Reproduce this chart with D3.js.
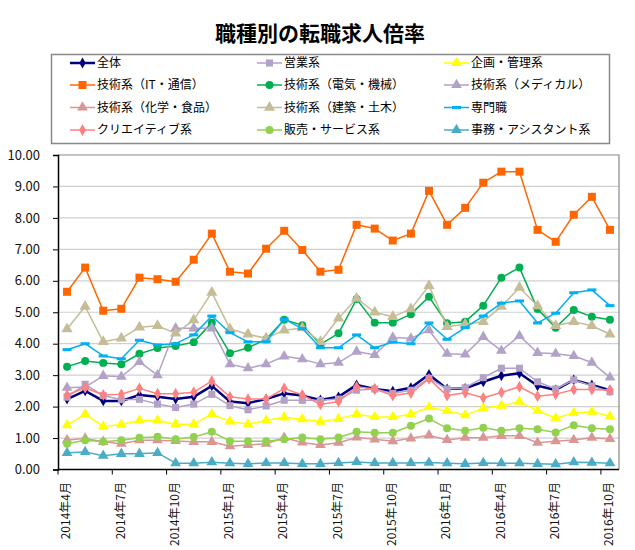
<!DOCTYPE html>
<html>
<head>
<meta charset="utf-8">
<script src="https://cdn.jsdelivr.net/npm/d3@7"></script>
<style>
    body { margin: 0; background: #fff; }
    text { font-family: "Noto Sans CJK JP", "Noto Sans", sans-serif; }
</style>
</head>
<body>
<div id="chart"></div>
<script>
// month labels (x axis categories)
const months = [
    "2014年4月", "2014年5月", "2014年6月", "2014年7月", "2014年8月", "2014年9月",
    "2014年10月", "2014年11月", "2014年12月", "2015年1月", "2015年2月", "2015年3月",
    "2015年4月", "2015年5月", "2015年6月", "2015年7月", "2015年8月", "2015年9月",
    "2015年10月", "2015年11月", "2015年12月", "2016年1月", "2016年2月", "2016年3月",
    "2016年4月", "2016年5月", "2016年6月", "2016年7月", "2016年8月", "2016年9月",
    "2016年10月"
];
const yTicks = [0, 1, 2, 3, 4, 5, 6, 7, 8, 9, 10];

// series values
const zentai   = [2.24, 2.50, 2.18, 2.18, 2.37, 2.31, 2.24, 2.31, 2.66, 2.16, 2.11, 2.24, 2.42, 2.35, 2.21, 2.31, 2.69, 2.56, 2.49, 2.60, 3.02, 2.56, 2.58, 2.79, 2.98, 3.06, 2.66, 2.53, 2.85, 2.69, 2.52];
const eigyo    = [2.30, 2.71, 2.35, 2.22, 2.23, 2.08, 1.97, 2.08, 2.39, 2.03, 1.90, 2.02, 2.20, 2.20, 2.20, 2.24, 2.52, 2.56, 2.42, 2.52, 2.90, 2.56, 2.60, 2.92, 3.22, 3.22, 2.79, 2.56, 2.85, 2.66, 2.47];
const kikaku   = [1.41, 1.76, 1.37, 1.43, 1.56, 1.56, 1.44, 1.44, 1.76, 1.53, 1.44, 1.56, 1.66, 1.60, 1.52, 1.61, 1.76, 1.67, 1.67, 1.76, 1.98, 1.86, 1.73, 1.95, 2.03, 2.16, 1.87, 1.63, 1.80, 1.84, 1.69];
const itTsushin = [5.65, 6.42, 5.05, 5.11, 6.10, 6.05, 5.97, 6.67, 7.50, 6.29, 6.23, 7.02, 7.59, 6.98, 6.29, 6.35, 7.78, 7.66, 7.28, 7.50, 8.86, 7.78, 8.32, 9.12, 9.47, 9.47, 7.62, 7.24, 8.10, 8.67, 7.62];
const denki    = [3.27, 3.45, 3.39, 3.35, 3.68, 3.86, 3.93, 4.05, 4.67, 3.70, 3.87, 4.14, 4.76, 4.59, 3.98, 4.33, 5.42, 4.67, 4.67, 4.94, 5.49, 4.65, 4.70, 5.21, 6.10, 6.42, 5.10, 4.51, 5.07, 4.86, 4.76];
const medical  = [2.60, 2.62, 2.98, 2.95, 3.42, 3.00, 4.49, 4.49, 4.49, 3.35, 3.22, 3.35, 3.60, 3.51, 3.35, 3.40, 3.75, 3.64, 4.20, 4.17, 4.43, 3.68, 3.66, 4.22, 3.78, 4.25, 3.71, 3.68, 3.61, 3.40, 2.93];
const kagaku   = [0.93, 0.99, 0.88, 0.82, 0.93, 0.93, 0.91, 0.88, 0.88, 0.74, 0.78, 0.82, 1.01, 0.86, 0.78, 0.85, 1.02, 0.96, 0.90, 0.99, 1.09, 0.94, 1.01, 1.01, 1.07, 1.07, 0.85, 0.90, 0.94, 1.01, 0.97];
const kenchiku = [4.47, 5.18, 4.06, 4.17, 4.52, 4.57, 4.33, 4.75, 5.63, 4.47, 4.30, 4.17, 4.43, 4.50, 4.06, 4.81, 5.44, 5.00, 4.86, 5.10, 5.84, 4.54, 4.62, 4.70, 5.18, 5.79, 5.20, 4.57, 4.70, 4.57, 4.30];
const senmon   = [3.81, 4.00, 3.61, 3.52, 4.11, 3.96, 4.00, 4.28, 4.88, 4.35, 4.06, 4.06, 4.78, 4.48, 3.87, 3.87, 4.28, 3.87, 4.05, 4.00, 4.66, 4.14, 4.51, 4.88, 5.29, 5.36, 4.66, 4.97, 5.62, 5.71, 5.21];
const creative = [2.37, 2.60, 2.37, 2.39, 2.58, 2.41, 2.41, 2.46, 2.81, 2.31, 2.24, 2.24, 2.58, 2.37, 2.07, 2.16, 2.63, 2.56, 2.35, 2.43, 2.88, 2.35, 2.44, 2.28, 2.45, 2.63, 2.33, 2.39, 2.54, 2.54, 2.52];
const hanbai   = [0.82, 0.93, 0.88, 0.93, 1.01, 1.04, 0.96, 1.03, 1.20, 0.90, 0.90, 0.90, 0.96, 1.02, 0.96, 1.02, 1.20, 1.17, 1.17, 1.39, 1.62, 1.31, 1.23, 1.33, 1.23, 1.31, 1.28, 1.18, 1.41, 1.31, 1.28];
const jimu     = [0.53, 0.56, 0.44, 0.50, 0.50, 0.53, 0.20, 0.20, 0.23, 0.20, 0.18, 0.21, 0.21, 0.18, 0.18, 0.21, 0.24, 0.21, 0.21, 0.21, 0.22, 0.20, 0.18, 0.21, 0.20, 0.20, 0.18, 0.17, 0.23, 0.22, 0.20];

const seriesNames = [
    "全体", "営業系", "企画・管理系",
    "技術系（IT・通信）", "技術系（電気・機械）", "技術系（メディカル）",
    "技術系（化学・食品）", "技術系（建築・土木）", "専門職",
    "クリエイティブ系", "販売・サービス系", "事務・アシスタント系"
];
const seriesValues = [zentai, eigyo, kikaku, itTsushin, denki, medical, kagaku, kenchiku, senmon, creative, hanbai, jimu];

// look of each series: colour, marker, line width
const styles = [
    { color: "#000080", marker: "diamond", size: 34, width: 2.5 },
    { color: "#B3A2C7", marker: "square", size: 50, width: 1.5 },
    { color: "#FFFF00", marker: "triangle", size: 50, width: 1.5 },
    { color: "#FF6600", marker: "square", size: 64, width: 1.5 },
    { color: "#00B050", marker: "circle", size: 50, width: 1.5 },
    { color: "#B3A2C7", marker: "triangle", size: 50, width: 1.5 },
    { color: "#D99694", marker: "triangle", size: 50, width: 1.5 },
    { color: "#C4BD97", marker: "triangle", size: 55, width: 1.5 },
    { color: "#00B0F0", marker: "dash", size: 0, width: 1.5 },
    { color: "#FF8080", marker: "diamond", size: 40, width: 1.5 },
    { color: "#92D050", marker: "circle", size: 50, width: 1.5 },
    { color: "#4BACC6", marker: "triangle", size: 50, width: 1.5 }
];

const W = 635, H = 550;
const margin = { left: 58, right: 16, top: 155, bottom: 80.5 };

const svg = d3.select("#chart").append("svg")
    .attr("width", W)
    .attr("height", H);

svg.append("rect").attr("width", W).attr("height", H).attr("fill", "#fff");

// title
svg.append("text")
    .attr("x", 320)
    .attr("y", 41)
    .attr("text-anchor", "middle")
    .attr("font-size", "21px")
    .attr("font-weight", "bold")
    .text("職種別の転職求人倍率");

const x = d3.scaleBand()
    .domain(months)
    .range([margin.left, W - margin.right]);
const y = d3.scaleLinear()
    .domain([0, 10])
    .range([H - margin.bottom, margin.top]);

function drawMarker(g, st, cx, cy) {
    if (st.marker === "dash") {
        g.append("rect")
            .attr("x", cx - 4.5).attr("y", cy - 1.5)
            .attr("width", 9).attr("height", 3)
            .attr("fill", st.color);
        return;
    }
    const type = {
        diamond: d3.symbolDiamond,
        square: d3.symbolSquare,
        triangle: d3.symbolTriangle,
        circle: d3.symbolCircle
    }[st.marker];
    g.append("path")
        .attr("d", d3.symbol().type(type).size(st.size)())
        .attr("transform", `translate(${cx},${cy})`)
        .attr("fill", st.color);
}

// grid lines
svg.append("g").selectAll("line")
    .data(yTicks.filter(d => d > 0 && d < 10))
    .join("line")
    .attr("x1", margin.left).attr("x2", W - margin.right)
    .attr("y1", d => y(d)).attr("y2", d => y(d))
    .attr("stroke", "#D0D0D0")
    .attr("stroke-width", 1.2);

// plot border (top, right)
svg.append("path")
    .attr("d", `M${margin.left},${y(10)}H${W - margin.right}V${y(0)}`)
    .attr("fill", "none")
    .attr("stroke", "#888")
    .attr("stroke-width", 1.2);

// y axis
const axisY = svg.append("g")
    .attr("transform", `translate(${margin.left},0)`)
    .call(d3.axisLeft(y).tickValues(yTicks).tickFormat(d3.format(".2f")).tickSize(5).tickPadding(13));
axisY.select(".domain").attr("stroke", "#000").attr("stroke-width", 1.5);
axisY.selectAll(".tick line").attr("stroke", "#000");
axisY.selectAll("text")
    .attr("font-size", "13px")
    .attr("fill", "#111")
    .style("font-family", '"Noto Sans CJK JP", sans-serif');

// x axis
const axisX = svg.append("g");
axisX.append("line")
    .attr("x1", margin.left).attr("x2", W - margin.right)
    .attr("y1", y(0)).attr("y2", y(0))
    .attr("stroke", "#000")
    .attr("stroke-width", 1.5);
axisX.selectAll(".xtick")
    .data(months.filter((d, i) => i % 3 === 0))
    .join("line")
    .attr("class", "xtick")
    .attr("x1", d => x(d)).attr("x2", d => x(d))
    .attr("y1", y(0)).attr("y2", y(0) + 5)
    .attr("stroke", "#000");
axisX.selectAll(".xlabel")
    .data(months.filter((d, i) => i % 3 === 0))
    .join("text")
    .attr("class", "xlabel")
    .attr("transform", d => `translate(${x(d) + x.bandwidth() / 2 - 1},482) rotate(-90)`)
    .attr("dy", "0.35em")
    .attr("text-anchor", "end")
    .attr("font-size", "12px")
    .attr("fill", "#111")
    .text(d => d);

// lines + markers
const line = d3.line()
    .x((d, i) => x(months[i]) + x.bandwidth() / 2)
    .y(d => y(d));
const drawArea = svg.append("g");
seriesValues.forEach((vals, k) => {
    const st = styles[k];
    const g = drawArea.append("g");
    g.append("path")
        .datum(vals)
        .attr("d", line)
        .attr("fill", "none")
        .attr("stroke", st.color)
        .attr("stroke-width", st.width)
        .attr("stroke-linejoin", "round");
    vals.forEach((v, i) => drawMarker(g, st, x(months[i]) + x.bandwidth() / 2, y(v)));
});

// legend
const legend = svg.append("g");
legend.append("rect")
    .attr("x", 51.5).attr("y", 54.5)
    .attr("width", 558).attr("height", 89)
    .attr("fill", "#fff")
    .attr("stroke", "#888")
    .attr("stroke-width", 1.5);
const colX = [70, 257, 444];
const rowY = [63, 85, 107.5, 130];
seriesNames.forEach((name, k) => {
    const st = styles[k];
    const lx = colX[k % 3], ly = rowY[Math.floor(k / 3)];
    const g = legend.append("g");
    g.append("line")
        .attr("x1", lx).attr("x2", lx + 25)
        .attr("y1", ly).attr("y2", ly)
        .attr("stroke", st.color)
        .attr("stroke-width", st.width);
    drawMarker(g, st, lx + 12.5, ly);
    g.append("text")
        .attr("x", lx + 27)
        .attr("y", ly)
        .attr("dy", "0.36em")
        .attr("font-size", "12px")
        .attr("fill", "#000")
        .text(name);
});
</script>
</body>
</html>
